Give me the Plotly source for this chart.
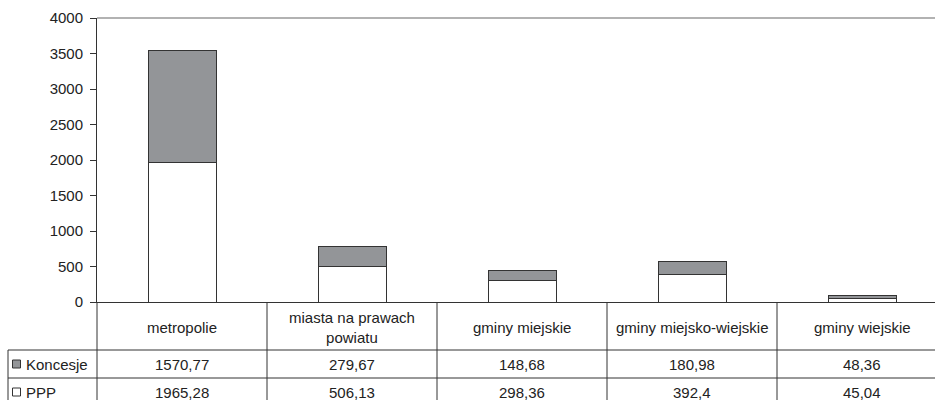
import plotly.graph_objects as go

# Data
categories = ["metropolie", "miasta na prawach<br>powiatu", "gminy miejskie",
              "gminy miejsko-wiejskie", "gminy wiejskie"]
koncesje = [1570.77, 279.67, 148.68, 180.98, 48.36]
ppp = [1965.28, 506.13, 298.36, 392.4, 45.04]
y_ticks = [0, 500, 1000, 1500, 2000, 2500, 3000, 3500, 4000]

W, H = 935, 400
L, T, B = 97, 18, 302           # plot area edges in pixels
PW, PH = W - L, B - T
COL = 170                        # table column width in pixels
TXT = "#222222"
LINE = "#333333"
GREY = "#939598"
FONT = "Liberation Sans, Arial, sans-serif"
FS = 15


def px(xp):
    return (xp - L) / PW


def py(yp):
    return (B - yp) / PH


def fmt(v):
    return f"{v:g}".replace(".", ",")


xs = list(range(len(categories)))

fig = go.Figure()
fig.add_trace(go.Bar(x=xs, y=ppp, name="PPP", width=0.4,
                     marker=dict(color="white", line=dict(color=LINE, width=1))))
fig.add_trace(go.Bar(x=xs, y=koncesje, name="Koncesje", width=0.4,
                     marker=dict(color=GREY, line=dict(color=LINE, width=1))))

shapes = []


def hline(y, x0, x1, color=LINE, w=1):
    shapes.append(dict(type="line", xref="paper", yref="paper",
                       x0=px(x0), x1=px(x1), y0=py(y), y1=py(y),
                       line=dict(color=color, width=w)))


def vline(x, y0, y1, color=LINE, w=1):
    shapes.append(dict(type="line", xref="paper", yref="paper",
                       x0=px(x), x1=px(x), y0=py(y0), y1=py(y1),
                       line=dict(color=color, width=w)))


# plot area top border
hline(T, L, W + 20, color="#999999", w=1.5)
# table grid
hline(350, 8, W + 20)
hline(378, 8, W + 20)
vline(8, 350, H + 10)
vline(L, B, H + 10)
for k in range(1, len(categories)):
    vline(L + k * COL, B, H + 10)

annotations = []
row_y = {"cat": 327, "Koncesje": 364, "PPP": 392}
for i, c in enumerate(categories):
    annotations.append(dict(x=i, xref="x", y=py(row_y["cat"]), yref="paper",
                            text=c, showarrow=False, xanchor="center", yanchor="middle",
                            font=dict(size=FS, color=TXT, family=FONT)))
    annotations.append(dict(x=i, xref="x", y=py(row_y["Koncesje"]), yref="paper",
                            text=fmt(koncesje[i]), showarrow=False, xanchor="center",
                            yanchor="middle", font=dict(size=FS, color=TXT, family=FONT)))
    annotations.append(dict(x=i, xref="x", y=py(row_y["PPP"]), yref="paper",
                            text=fmt(ppp[i]), showarrow=False, xanchor="center",
                            yanchor="middle", font=dict(size=FS, color=TXT, family=FONT)))

# legend keys inside the table
for name, fill in (("Koncesje", GREY), ("PPP", "white")):
    yc = row_y[name]
    shapes.append(dict(type="rect", xref="paper", yref="paper",
                       x0=px(12.5), x1=px(20.5), y0=py(yc - 4), y1=py(yc + 4),
                       fillcolor=fill, line=dict(color=LINE, width=1)))
    annotations.append(dict(x=px(24), xref="paper", y=py(yc), yref="paper",
                            text=name, showarrow=False, xanchor="left", yanchor="middle",
                            font=dict(size=FS, color=TXT, family=FONT)))

fig.update_layout(
    width=W, height=H,
    margin=dict(l=L, r=0, t=T, b=H - B, pad=0),
    barmode="stack",
    showlegend=False,
    plot_bgcolor="white", paper_bgcolor="white",
    font=dict(family=FONT, size=FS, color=TXT),
    shapes=shapes,
    annotations=annotations,
    xaxis=dict(range=[-0.5, -0.5 + PW / COL], showticklabels=False, ticks="",
               showgrid=False, zeroline=False, showline=True, linecolor=LINE,
               linewidth=1, fixedrange=True),
    yaxis=dict(range=[0, 4000], tickvals=y_ticks, ticks="outside", ticklen=6,
               tickcolor=LINE, tickwidth=1, showgrid=False, zeroline=False,
               showline=True, linecolor=LINE, linewidth=1, ticklabelstandoff=4,
               tickfont=dict(size=FS, color=TXT, family=FONT), fixedrange=True),
)

fig.write_html("out.html", config={"displayModeBar": False})
